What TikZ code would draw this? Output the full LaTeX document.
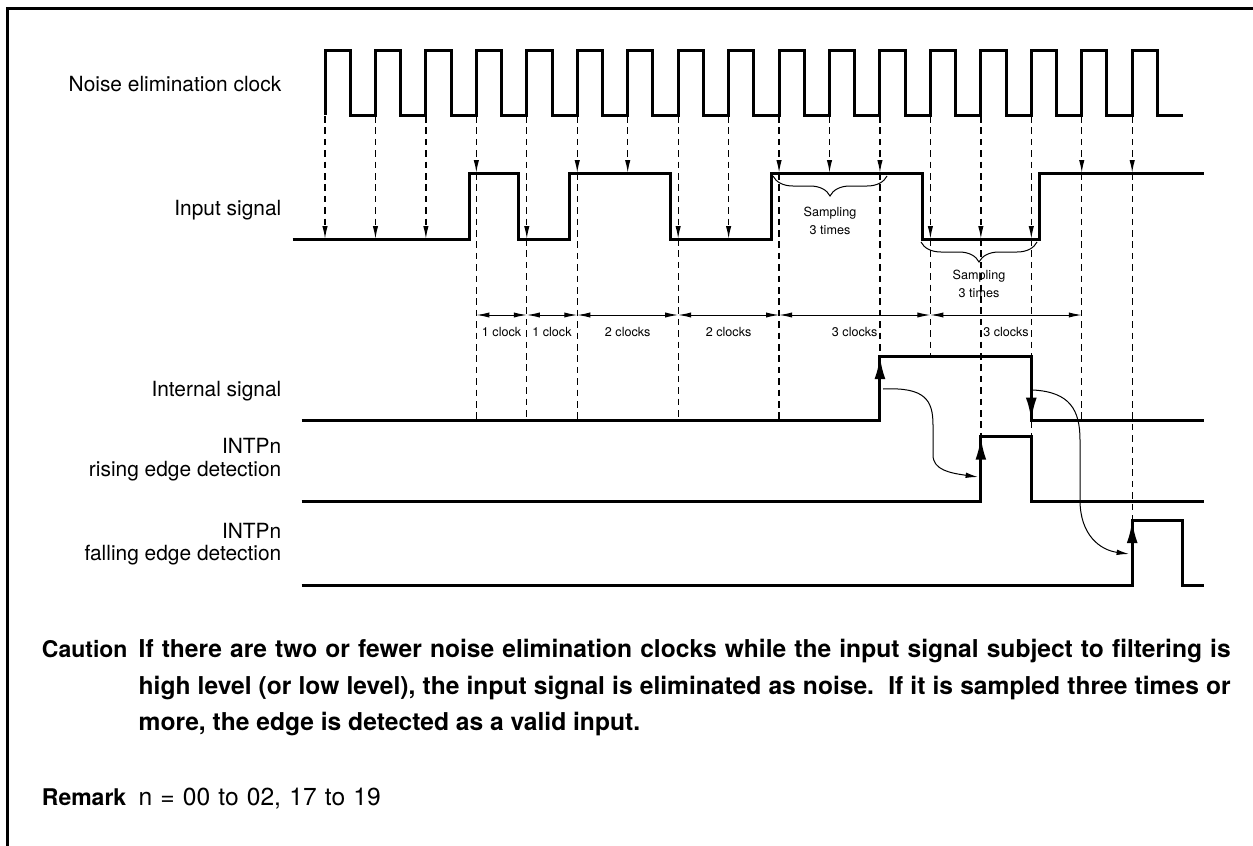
\documentclass[tikz,border=0pt]{standalone}
\usepackage{fontspec}
\setmainfont{TeX Gyre Heros}
\usetikzlibrary{arrows.meta,decorations.pathreplacing}
\begin{document}
\begin{tikzpicture}[x=0.5pt,y=-0.5pt,
  sig/.style={line width=1.5pt, line join=miter},
  thinl/.style={line width=0.5pt},
  dsh/.style={line width=0.65pt, dash pattern=on 3.3pt off 2.4pt},
  sm/.style={-{Latex[length=6.5pt,width=2.7pt]}},
  dim/.style={thinl,{Latex[length=6.5pt,width=2.6pt]}-{Latex[length=6.5pt,width=2.6pt]}},
  big/.style={line width=1.5pt,-{Latex[length=11.5pt,width=5.4pt]}},
  curv/.style={thinl,-{Latex[length=6.2pt,width=2.8pt]}},
  lab/.style={font=\fontsize{10.45}{12}\selectfont, anchor=base east, inner sep=0pt},
  tinyl/.style={font=\fontsize{6.3}{7.5}\selectfont, inner sep=0pt, anchor=base},
  brc/.style={thinl, decorate, decoration={brace, mirror, amplitude=10pt}},
  head/.style={anchor=base west, inner sep=0pt, font=\bfseries\fontsize{11.5}{13}\selectfont},
  body/.style={anchor=base west, inner sep=0pt, font=\bfseries\fontsize{12.3}{14}\selectfont},
  rbody/.style={anchor=base west, inner sep=0pt, font=\fontsize{12.3}{14}\selectfont},
]
\useasboundingbox (0,0) rectangle (1253,846);
% frame
\draw[line width=1.5pt] (7,846) -- (7,8.5) -- (1253,8.5);

% labels
\node[lab] (lclk) at (281.7,91.7) {Noise elimination clock};
\node[lab] (lin) at (281.7,215) {Input signal};
\node[lab] (lint) at (281.7,396) {Internal signal};
\node[lab] (lr1) at (281.7,453.3) {INTPn};
\node[lab] (lr2) at (281.7,476) {rising edge detection};
\node[lab] (lf1) at (281.7,538.3) {INTPn};
\node[lab] (lf2) at (281.7,560.5) {falling edge detection};

% clock
\draw[sig] (325,115) \foreach \k in {0,...,16}{ -- ++(0,-65) -- ++(25.2,0) -- ++(0,65) -- ++(25.25,0) };

% dashed sampling arrows: k / level / bottom
\foreach \k/\lv/\bt in {0/239/0,1/239/0,2/239/0,3/173/420.7,4/239/420.7,5/173/420.7,6/173/0,7/239/420.7,8/239/0,9/173/420.7,10/173/0,11/173/356,12/239/356,13/239/436.7,14/239/436.7,15/173/420.7,16/173/520}{
  \pgfmathsetmacro\xx{325+50.45*\k}
  \draw[dsh,sm] (\xx,116) -- (\xx,\lv);
  \ifdim\bt pt>1pt
    \draw[dsh] (\xx,\lv) -- (\xx,\bt);
  \fi
}

% input signal
\draw[sig] (292.7,239) -- (469,239) -- (469,173) -- (518.3,173) -- (518.3,239) -- (569.3,239) -- (569.3,173) -- (670.7,173) -- (670.7,239) -- (771.3,239) -- (771.3,173) -- (922.3,173) -- (922.3,239) -- (1039.3,239) -- (1039.3,173) -- (1204.3,173);

% braces
\draw[brc] (773,176) -- (887,176);
\node[tinyl] (s1a) at (830,216) {Sampling};
\node[tinyl] (s1b) at (830,234.3) {3 times};
\draw[brc] (921,242) -- (1037,242);
\node[tinyl] (s2a) at (979,279.3) {Sampling};
\node[tinyl] (s2b) at (979,297.3) {3 times};

% dimension arrows
\draw[dim] (476.35,315) -- (526.8,315);
\draw[dim] (526.8,315) -- (577.25,315);
\draw[dim] (577.25,315) -- (678.15,315);
\draw[dim] (678.15,315) -- (779.05,315);
\draw[dim] (779.05,315) -- (930.4,315);
\draw[dim] (930.4,315) -- (1081.75,315);
\node[tinyl] (c1) at (501.6,336) {1 clock};
\node[tinyl] (c2) at (552,336) {1 clock};
\node[tinyl] (c3) at (627.7,336) {2 clocks};
\node[tinyl] (c4) at (728.6,336) {2 clocks};
\node[tinyl] (c5) at (854.7,336) {3 clocks};
\node[tinyl] (c6) at (1006,336) {3 clocks};

% internal signal
\draw[sig] (301.7,420.7) -- (879.95,420.7) -- (879.95,356) -- (1031.3,356) -- (1031.3,420.7) -- (1204,420.7);
\draw[big] (879.95,400) -- (879.95,356);
\draw[big] (1031.3,380) -- (1031.3,420.7);

% rising edge detection
\draw[sig] (301.7,501.7) -- (980.85,501.7) -- (980.85,436.7) -- (1031.3,436.7) -- (1031.3,501.7) -- (1204,501.7);
\draw[big] (980.85,480) -- (980.85,436.7);

% falling edge detection
\draw[sig] (301.7,585) -- (1132.2,585) -- (1132.2,520) -- (1182.65,520) -- (1182.65,585) -- (1204,585);
\draw[big] (1132.2,565) -- (1132.2,520);

% causal curves
\draw[curv] (883,389) .. controls (925,387) and (933,400) .. (933,425) -- (933,455) .. controls (933,470) and (950,473) .. (978,477);
\draw[curv] (1033,390) .. controls (1070,392) and (1080,410) .. (1080,440) -- (1080,500) .. controls (1080,535) and (1100,550) .. (1129,554);

% notes
\node[head] (cau) at (41.5,657.3) {Caution};
\node[body] (t1) at (138.3,657.3) {\makebox[546pt][s]{If there are two or fewer noise elimination clocks while the input signal subject to filtering is}};
\node[body] (t2) at (138.3,694) {\makebox[546pt][s]{high level (or low level), the input signal is eliminated as noise.\ \ If it is sampled three times or}};
\node[body] (t3) at (138.3,730.5) {more, the edge is detected as a valid input.};
\node[head] (rem) at (41.5,805) {Remark};
\node[rbody] (remt) at (138.3,805) {\makebox[121pt][s]{n = 00 to 02, 17 to 19}};
\end{tikzpicture}
\end{document}
